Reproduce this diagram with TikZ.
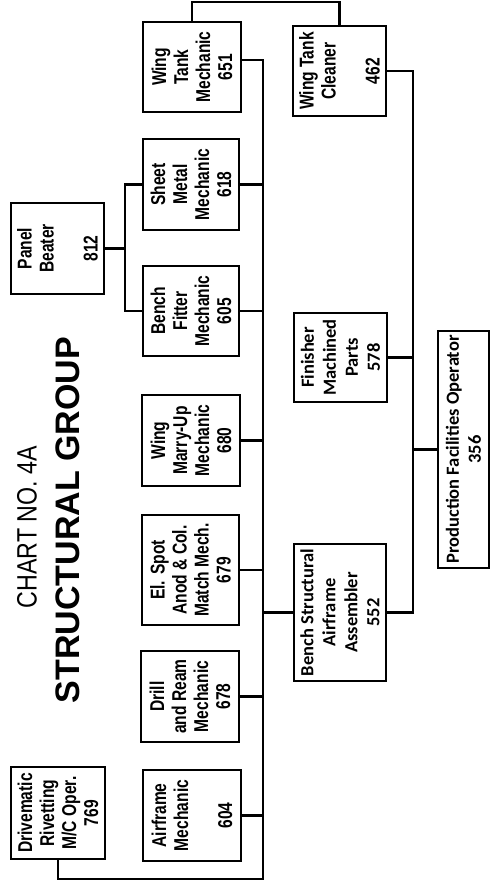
\documentclass[tikz,border=0pt]{standalone}
\usepackage{fontspec}
\setmainfont{Liberation Sans}
\newfontfamily\narrowf[FakeStretch=0.83]{Liberation Sans}
\newfontfamily\narrowb[FakeStretch=0.78]{Liberation Sans Bold}
\newfontfamily\calibf{Carlito Bold}
\begin{document}
\begin{tikzpicture}[x=1pt,y=-1pt,line width=2.4pt,
  box/.style={draw,rotate=90,inner sep=0pt,align=center,
    font=\narrowb\fontsize{20}{22}\selectfont},
  cbox/.style={box,font=\calibf\fontsize{18.5}{22}\selectfont},
  titlebig/.style={rotate=90,inner sep=0pt,font=\bfseries\fontsize{34}{34}\selectfont},
  titlesmall/.style={rotate=90,inner sep=0pt,font=\narrowf\fontsize{28}{28}\selectfont}]
\useasboundingbox (0,0) rectangle (492,888);
% titles
\node[titlesmall] (chart) at (27,527) {CHART NO. 4A};
\node[titlebig] (title) at (67.5,520) {STRUCTURAL GROUP};
% left column
\node[box,minimum height=93.6pt,minimum width=91.6pt] (drv) at (58,813) {Drivematic\\Rivetting\\M/C Oper.\\769};
\node[box,minimum height=92.6pt,minimum width=90.6pt] (pb) at (57.5,248.5) {Panel\\Beater\\\\812};
% middle column
\node[box,minimum height=97.6pt,minimum width=90.6pt] (af) at (192,815.5) {Airframe\\Mechanic\\\\604};
\node[box,minimum height=97.6pt,minimum width=90.6pt] (dr) at (190,696.5) {Drill\\and Ream\\Mechanic\\678};
\node[box,minimum height=96.6pt,minimum width=109.6pt] (el) at (190.5,570) {El. Spot\\Anod \& Col.\\Match Mech.\\679};
\node[box,minimum height=97.6pt,minimum width=90.6pt] (wm) at (191,440.5) {Wing\\Marry-Up\\Mechanic\\680};
\node[box,minimum height=95.6pt,minimum width=89.6pt] (bf) at (191,311) {Bench\\Fitter\\Mechanic\\605};
\node[box,minimum height=95.6pt,minimum width=90.6pt] (sm) at (191,184.5) {Sheet\\Metal\\Mechanic\\618};
\node[box,minimum height=97.6pt,minimum width=89.6pt] (wtm) at (192,67) {Wing\\Tank\\Mechanic\\651};
% right column
\node[box,minimum height=92.6pt,minimum width=89.6pt] (wtc) at (339.5,71) {Wing Tank\\Cleaner\\\\462};
\node[cbox,minimum height=92.6pt,minimum width=88.6pt] (fin) at (340.5,357.5) {Finisher\\Machined\\Parts\\578};
\node[cbox,minimum height=91.6pt,minimum width=136.6pt] (bsa) at (340,612.5) {Bench Structural\\Airframe\\Assembler\\552};
\node[cbox,minimum height=50.6pt,minimum width=236.6pt] (pfo) at (463.5,449.5) {Production Facilities Operator\\356};
% bus coordinates
\coordinate (busA) at (263,60);
\coordinate (busAb) at (263,879);
\coordinate (busB) at (413,71);
\coordinate (pj) at (125,247);
\coordinate (topline) at (0,2);
% main bus A
\draw (wtm.south |- busA) -- (busA) -- (busAb) -| (drv.west);
\draw (sm.south) -- (sm.south -| busA);
\draw (bf.south) -- (bf.south -| busA);
\draw (wm.south) -- (wm.south -| busA);
\draw (el.south) -- (el.south -| busA);
\draw (dr.south) -- (dr.south -| busA);
\draw (af.south) -- (af.south -| busA);
\draw (bsa.north) -- (bsa.north -| busA);
% panel beater
\draw (pb.south) -- (pb.south -| pj);
\draw (sm.north) -| (pj |- bf.north) -- (bf.north);
% top link
\draw (wtm.east) |- (topline -| wtc.east) -- (wtc.east);
% bus B
\draw (wtc.south) -- (busB) -- (busB |- bsa.south) -- (bsa.south);
\draw (fin.south) -- (fin.south -| busB);
\draw (pfo.north) -- (pfo.north -| busB);
\end{tikzpicture}
\end{document}
